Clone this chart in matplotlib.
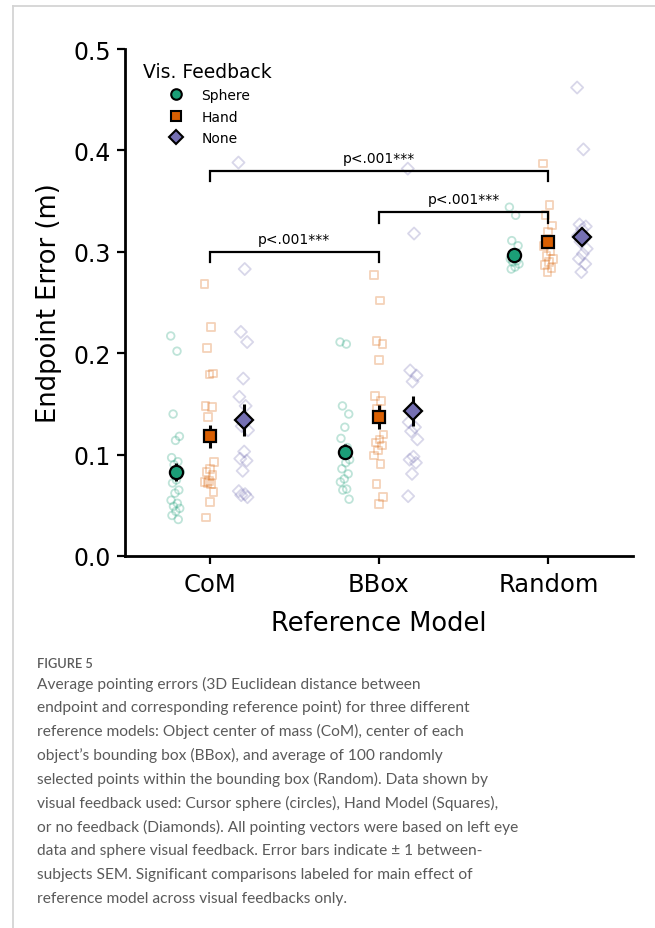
import matplotlib
matplotlib.use("Agg")
import matplotlib.pyplot as plt
import numpy as np
from matplotlib.lines import Line2D
from matplotlib import font_manager

W, H = 655, 929
DPI = 100

# ---------------- data ----------------
models = ["CoM", "BBox", "Random"]
feedbacks = ["Sphere", "Hand", "None"]

# individual subject points
sphere_com = [0.217, 0.202, 0.140, 0.118, 0.114, 0.097, 0.093, 0.090, 0.083, 0.075,
              0.072, 0.065, 0.062, 0.055, 0.052, 0.049, 0.047, 0.044, 0.040, 0.036]
hand_com = [0.268, 0.226, 0.205, 0.180, 0.179, 0.148, 0.147, 0.137, 0.093, 0.086,
            0.083, 0.080, 0.074, 0.073, 0.071, 0.072, 0.063, 0.053, 0.038]
none_com = [0.388, 0.283, 0.221, 0.211, 0.175, 0.157, 0.148, 0.128, 0.124, 0.103,
            0.096, 0.094, 0.084, 0.064, 0.061, 0.060, 0.058]

sphere_bbox = [0.211, 0.209, 0.148, 0.140, 0.127, 0.116, 0.107, 0.100, 0.095, 0.092,
               0.086, 0.081, 0.076, 0.073, 0.066, 0.065, 0.056]
hand_bbox = [0.277, 0.252, 0.212, 0.209, 0.193, 0.158, 0.153, 0.145, 0.120, 0.115,
             0.112, 0.109, 0.104, 0.099, 0.091, 0.071, 0.058, 0.051]
none_bbox = [0.382, 0.318, 0.183, 0.178, 0.172, 0.132, 0.127, 0.123, 0.115, 0.098,
             0.095, 0.092, 0.081, 0.059]

sphere_random = [0.344, 0.336, 0.311, 0.306, 0.296, 0.293, 0.291, 0.290, 0.288,
                 0.285, 0.283]
hand_random = [0.387, 0.346, 0.336, 0.326, 0.320, 0.306, 0.301, 0.296, 0.293, 0.290,
               0.287, 0.284, 0.280]
none_random = [0.462, 0.401, 0.327, 0.325, 0.322, 0.316, 0.313, 0.310, 0.303, 0.298,
               0.293, 0.288, 0.280]

# group means and between-subject SEM
mean_sphere = [0.083, 0.103, 0.297]
mean_hand = [0.118, 0.137, 0.310]
mean_none = [0.134, 0.143, 0.315]
sem_sphere = [0.009, 0.0075, 0.004]
sem_hand = [0.011, 0.0115, 0.006]
sem_none = [0.0155, 0.0145, 0.006]

# significance comparisons (from index, to index, label)
sig_pairs = [(0, 1), (1, 2), (0, 2)]
sig_levels = [0.300, 0.339, 0.380]
sig_labels = ["p<.001***", "p<.001***", "p<.001***"]

legend_title = "Vis. Feedback"
caption_head = "FIGURE 5"
caption_lines = [
    "Average pointing errors (3D Euclidean distance between",
    "endpoint and corresponding reference point) for three different",
    "reference models: Object center of mass (CoM), center of each",
    "object\u2019s bounding box (BBox), and average of 100 randomly",
    "selected points within the bounding box (Random). Data shown by",
    "visual feedback used: Cursor sphere (circles), Hand Model (Squares),",
    "or no feedback (Diamonds). All pointing vectors were based on left eye",
    "data and sphere visual feedback. Error bars indicate \u00b1 1 between-",
    "subjects SEM. Significant comparisons labeled for main effect of",
    "reference model across visual feedbacks only.",
]

# ---------------- styling ----------------
colors = ["#1b9e77", "#d95f02", "#7570b3"]
markers = ["o", "s", "D"]
offsets = [-0.2, 0.0, 0.2]

points = [
    [sphere_com, sphere_bbox, sphere_random],
    [hand_com, hand_bbox, hand_random],
    [none_com, none_bbox, none_random],
]
means = [mean_sphere, mean_hand, mean_none]
sems = [sem_sphere, sem_hand, sem_none]

plt.rcParams["font.family"] = ["DejaVu Sans"]

avail = {f.name for f in font_manager.fontManager.ttflist}
if "Liberation Sans Narrow" in avail:
    cap_family, cap_size, head_size = "Liberation Sans Narrow", 13.6, 11.5
else:
    cap_family, cap_size, head_size = "Lato", 11.2, 9.2

fig = plt.figure(figsize=(W / DPI, H / DPI), dpi=DPI)
fig.patch.set_facecolor("white")

def fx(px):
    return px / W

def fy(py):
    return 1 - py / H

ax = fig.add_axes([fx(125), fy(557), fx(633) - fx(125), fy(50) - fy(557)])

# individual points (deterministic horizontal spread)
for g in range(3):
    for m in range(3):
        vals = np.array(points[g][m])
        n = len(vals)
        jit = (((np.arange(n) * 0.618) % 1.0) - 0.5) * 0.06
        ax.scatter(m + offsets[g] + jit, vals, marker=markers[g],
                   s=30 if g < 2 else 38, facecolors="none",
                   edgecolors=colors[g], linewidths=1.3, alpha=0.28, zorder=2)

# means with error bars
msizes = [9.5, 9.0, 9.5]
for g in range(3):
    xs = np.arange(3) + offsets[g]
    ax.errorbar(xs, means[g], yerr=sems[g], fmt="none", ecolor="black",
                elinewidth=2.2, capsize=0, zorder=4)
    ax.plot(xs, means[g], linestyle="none", marker=markers[g],
            markersize=msizes[g], markerfacecolor=colors[g],
            markeredgecolor="black", markeredgewidth=1.6, zorder=5)

# significance brackets
leg_h = 0.0105
for (a, b), y, lab in zip(sig_pairs, sig_levels, sig_labels):
    ax.plot([a, a, b, b], [y - leg_h, y, y, y - leg_h], color="black",
            linewidth=1.6, zorder=3, solid_joinstyle="miter")
    ax.text((a + b) / 2, y + 0.006, lab, ha="center", va="bottom",
            fontsize=10, color="black")

ax.set_xlim(-0.5, 2.5)
ax.set_ylim(0, 0.5)
ax.set_xticks(range(3))
ax.set_xticklabels(models, fontsize=17.5)
ax.set_yticks([0, 0.1, 0.2, 0.3, 0.4, 0.5])
ax.set_yticklabels(["0.0", "0.1", "0.2", "0.3", "0.4", "0.5"], fontsize=17)
ax.set_xlabel("Reference Model", fontsize=18.5, labelpad=10)
ax.set_ylabel("Endpoint Error (m)", fontsize=18.5, labelpad=8)
for s in ["top", "right"]:
    ax.spines[s].set_visible(False)
for s in ["left", "bottom"]:
    ax.spines[s].set_linewidth(2.0)
ax.tick_params(axis="both", width=1.6, length=6, pad=4)
ax.tick_params(axis="x", pad=5.5)

# legend (title drawn separately for exact placement)
handles = [Line2D([], [], linestyle="none", marker=markers[g],
                  markersize=msizes[g] * 0.8, markerfacecolor=colors[g],
                  markeredgecolor="black", markeredgewidth=1.5)
           for g in range(3)]
leg = ax.legend(handles, feedbacks, loc="upper left", frameon=False, fontsize=10,
                bbox_to_anchor=(fx(166), fy(89)), bbox_transform=fig.transFigure,
                borderaxespad=0, borderpad=0, handlelength=1.4,
                handletextpad=1.15, labelspacing=0.55)
fig.text(fx(143), fy(72), legend_title, fontsize=13.5, ha="left", va="center")

# page frame lines
fig.add_artist(Line2D([fx(13), fx(13)], [fy(7), 0], color="#d4d4d4", linewidth=1.3))
fig.add_artist(Line2D([fx(13), 1], [fy(7), fy(7)], color="#d4d4d4", linewidth=1.3))

# caption
cap_color = "#5a5a5a"
fig.text(fx(37), fy(664), caption_head, fontsize=head_size, color=cap_color,
         family=cap_family, fontweight="semibold", va="center")
for i, line in enumerate(caption_lines):
    fig.text(fx(37), fy(684 + i * 23.9), line, fontsize=cap_size, color=cap_color,
             family=cap_family, va="center")

fig.savefig("out.png", dpi=DPI)
